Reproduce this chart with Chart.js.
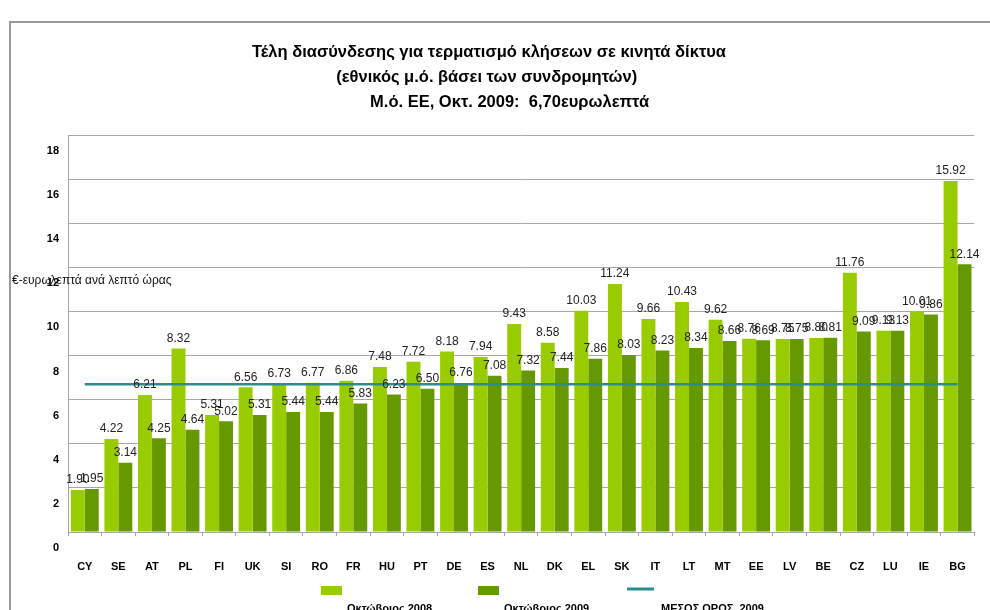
<!DOCTYPE html>
<html>
<head>
<meta charset="utf-8">
<script src="https://cdn.jsdelivr.net/npm/chart.js@4/dist/chart.umd.min.js"></script>
<style>
body{margin:0;background:#fff;}
</style>
</head>
<body>
<canvas id="termChart" width="990" height="610"></canvas>
<script>
var countries = ['CY','SE','AT','PL','FI','UK','SI','RO','FR','HU','PT','DE','ES','NL','DK','EL','SK','IT','LT','MT','EE','LV','BE','CZ','LU','IE','BG'];
var oct2008 = [1.90,4.22,6.21,8.32,5.31,6.56,6.73,6.77,6.86,7.48,7.72,8.18,7.94,9.43,8.58,10.03,11.24,9.66,10.43,9.62,8.76,8.75,8.80,11.76,9.13,10.01,15.92];
var oct2009 = [1.95,3.14,4.25,4.64,5.02,5.31,5.44,5.44,5.83,6.23,6.50,6.76,7.08,7.32,7.44,7.86,8.03,8.23,8.34,8.66,8.69,8.75,8.81,9.09,9.13,9.86,12.14];
var euAverage2009 = 6.70;
var seriesNames = ['Οκτώβριος 2008', 'Οκτώβριος 2009', 'ΜΕΣΟΣ ΟΡΟΣ  2009'];
var titleLines = [
    'Τέλη διασύνδεσης για τερματισμό κλήσεων σε κινητά δίκτυα',
    '(εθνικός μ.ό. βάσει των συνδρομητών) ',
    '         Μ.ό. ΕΕ, Οκτ. 2009:  6,70ευρωλεπτά'
];
var yAxisTitle = '€-ευρωλεπτά ανά λεπτό ώρας';

var FONT = "'Liberation Sans', Arial, sans-serif";
var gridGrey = '#a6a6a6';

// frame round the whole chart, like the excel box
var framePlugin = {
    id: 'frame',
    beforeDraw: function(chart){
        var ctx = chart.ctx;
        ctx.save();
        ctx.strokeStyle = '#9a9a9a';
        ctx.lineWidth = 2;
        ctx.strokeRect(10, 22, 1200, 1200);
        ctx.restore();
    }
};

// numbers above the bars
var valueLabels = {
    id: 'valueLabels',
    afterDatasetsDraw: function(chart){
        var ctx = chart.ctx;
        ctx.save();
        ctx.font = '12px ' + FONT;
        ctx.fillStyle = '#222';
        ctx.textAlign = 'center';
        ctx.textBaseline = 'bottom';
        [0, 1].forEach(function(i){
            var meta = chart.getDatasetMeta(i);
            meta.data.forEach(function(bar, j){
                ctx.fillText(chart.data.datasets[i].data[j].toFixed(2), bar.x, bar.y - 4);
            });
        });
        ctx.restore();
    }
};

// horizontal y title + legend with the text under the swatch
var extras = {
    id: 'extras',
    afterDraw: function(chart){
        var ctx = chart.ctx;
        ctx.save();
        ctx.font = '12px ' + FONT;
        ctx.fillStyle = '#111';
        ctx.textAlign = 'left';
        ctx.textBaseline = 'middle';
        ctx.fillText(yAxisTitle, 12, 281);

        var startX = 321, step = 157;
        chart.data.datasets.forEach(function(ds, i){
            var x = startX + i * step;
            if(ds.type === 'line'){
                ctx.strokeStyle = ds.borderColor;
                ctx.lineWidth = 3;
                ctx.beginPath();
                ctx.moveTo(x - 8, 589);
                ctx.lineTo(x + 19, 589);
                ctx.stroke();
            }else{
                ctx.fillStyle = ds.backgroundColor;
                ctx.fillRect(x, 586, 21, 9);
            }
            ctx.fillStyle = '#000';
            ctx.font = 'bold 11px ' + FONT;
            ctx.textBaseline = 'alphabetic';
            ctx.fillText(ds.label, x + 26, 612);
        });
        ctx.restore();
    }
};

var canvas = document.getElementById('termChart').getContext('2d');
var chart = new Chart(canvas, {
    type: 'bar',
    data: {
        labels: countries,
        datasets: [
            {
                label: seriesNames[0],
                data: oct2008,
                backgroundColor: '#99cc00',
                categoryPercentage: 0.83,
                barPercentage: 1.0,
                order: 1
            },
            {
                label: seriesNames[1],
                data: oct2009,
                backgroundColor: '#669900',
                categoryPercentage: 0.83,
                barPercentage: 1.0,
                order: 1
            },
            {
                type: 'line',
                label: seriesNames[2],
                data: countries.map(function(){ return euAverage2009; }),
                borderColor: '#2b8c8f',
                borderWidth: 2.5,
                pointRadius: 0,
                fill: false,
                order: 0
            }
        ]
    },
    options: {
        responsive: false,
        animation: false,
        devicePixelRatio: 1,
        layout: { padding: { left: 0, right: 12, top: 0, bottom: 0 } },
        plugins: {
            legend: { display: false },
            tooltip: { enabled: false },
            title: {
                display: true,
                text: titleLines,
                color: '#000',
                font: { family: FONT, size: 16.5, weight: 'bold', lineHeight: '25px' },
                padding: { top: 40, bottom: 20 }
            }
        },
        scales: {
            x: {
                grid: { offset: true, drawOnChartArea: false, drawTicks: true, tickLength: 4, color: gridGrey },
                border: { color: gridGrey },
                ticks: {
                    color: '#000',
                    padding: 24,
                    font: { family: FONT, size: 11, weight: 'bold' },
                    maxRotation: 0,
                    autoSkip: false
                },
                afterFit: function(scale){ scale.height = 78; }
            },
            y: {
                min: 0,
                max: 18,
                grid: { color: gridGrey, drawTicks: false },
                border: { color: gridGrey },
                ticks: {
                    stepSize: 2,
                    autoSkip: false,
                    color: '#000',
                    padding: 9,
                    font: { family: FONT, size: 11, weight: 'bold', lineHeight: '32px' },
                    // excel drew the labels half a step low, push them down with an empty first line
                    callback: function(value){ return ['', String(value)]; }
                },
                afterFit: function(scale){ scale.width = 68; }
            }
        }
    },
    plugins: [framePlugin, valueLabels, extras]
});
</script>
</body>
</html>
